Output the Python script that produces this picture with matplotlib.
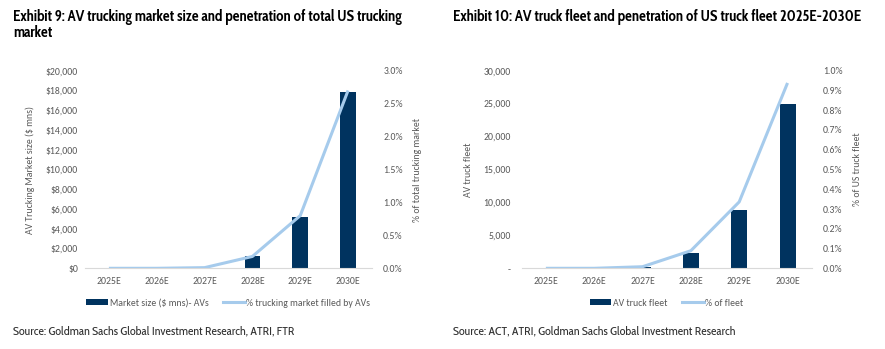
import matplotlib
matplotlib.use("Agg")
import matplotlib.pyplot as plt
from matplotlib.lines import Line2D
from matplotlib.patches import Patch
from matplotlib.ticker import FuncFormatter
import numpy as np

categories = ["2025E", "2026E", "2027E", "2028E", "2029E", "2030E"]

# Exhibit 9
market_size = [0, 0, 20, 1200, 5200, 17800]          # $ mns
market_pct = [0.0, 0.0, 0.01, 0.18, 0.80, 2.70]      # % of total trucking market

# Exhibit 10
fleet = [0, 0, 250, 2300, 8900, 24900]               # AV trucks
fleet_pct = [0.0, 0.0, 0.008, 0.089, 0.336, 0.938]   # % of US truck fleet

title1_l1 = "Exhibit 9: AV trucking market size and penetration of total US trucking"
title1_l2 = "market"
title2 = "Exhibit 10: AV truck fleet and penetration of US truck fleet 2025E-2030E"
source1 = "Source: Goldman Sachs Global Investment Research, ATRI, FTR"
source2 = "Source: ACT, ATRI, Goldman Sachs Global Investment Research"

BAR = "#00335F"
LINE = "#A6CBEC"
GREY = "#595959"
TICKFONT = ["Carlito", "DejaVu Sans"]
TITLEFONT = ["Cabin Condensed", "DejaVu Sans"]
TS = 7.0

W, H = 885, 349
fig = plt.figure(figsize=(W / 100, H / 100), dpi=100)
fig.patch.set_facecolor("white")


def px_axes(x0, x1, ytop, ybot):
    return fig.add_axes([x0 / W, 1 - ybot / H, (x1 - x0) / W, (ybot - ytop) / H])


def style(ax, ax2):
    for a in (ax, ax2):
        for s in a.spines.values():
            s.set_visible(False)
        a.tick_params(length=0, colors=GREY, labelsize=TS)
        for lab in a.get_xticklabels() + a.get_yticklabels():
            lab.set_family(TICKFONT)
    ax.spines["bottom"].set_visible(True)
    ax.spines["bottom"].set_color("#D9D9D9")
    ax.spines["bottom"].set_linewidth(0.8)


def make_chart(x0, x1, bars, pct, ymax, ystep, pmax, pstep, yfmt, pfmt,
               ylabel, plabel, lpad, rpad, leg_labels):
    ax = px_axes(x0, x1, 70.7, 268.3)
    x = np.arange(len(categories))
    ax.bar(x, bars, width=0.33, color=BAR, zorder=2)
    ax.set_xlim(-0.5, len(categories) - 0.5)
    ax.set_ylim(0, ymax)
    ax.set_yticks(np.arange(0, ymax + ystep / 2, ystep))
    ax.yaxis.set_major_formatter(FuncFormatter(yfmt))
    ax.set_xticks(x)
    ax.set_xticklabels(categories)
    ax2 = ax.twinx()
    ax2.plot(x, pct, color=LINE, linewidth=2.2, zorder=3, solid_capstyle="butt")
    ax2.set_ylim(0, pmax)
    ax2.set_yticks(np.arange(0, pmax + pstep / 2, pstep))
    ax2.yaxis.set_major_formatter(FuncFormatter(pfmt))
    ax.tick_params(axis="y", pad=lpad)
    ax.tick_params(axis="x", pad=6)
    ax2.tick_params(axis="y", pad=rpad)
    style(ax, ax2)
    ax.set_ylabel(ylabel, color=GREY, fontsize=TS, family=TICKFONT)
    ax2.set_ylabel(plabel, color=GREY, fontsize=TS, family=TICKFONT)
    handles = [Patch(facecolor=BAR, edgecolor="none"),
               Line2D([0], [0], color=LINE, linewidth=2.2)]
    leg = ax.legend(handles, leg_labels, loc="center", ncol=2, frameon=False,
                    bbox_to_anchor=(0.5, (268.3 - 303) / 197.6),
                    handlelength=2.2, handleheight=0.45, handletextpad=0.2,
                    columnspacing=1.5, prop={"family": TICKFONT, "size": TS})
    for t in leg.get_texts():
        t.set_color(GREY)
    return ax, ax2


ax, ax2 = make_chart(85, 372, market_size, market_pct, 20000, 2000, 3.0, 0.5,
                     lambda v, p: "${:,.0f}".format(v),
                     lambda v, p: "{:.1f}%".format(v),
                     "AV Trucking Market size ($ mns)", "% of total trucking market",
                     5, 8, ["Market size ($ mns)- AVs", "% trucking market filled by AVs"])
ax.yaxis.set_label_coords((35 - 85) / 287, 0.5)
ax2.yaxis.set_label_coords((413 - 85) / 287, 0.5)

bx, bx2 = make_chart(521.7, 811.7, fleet, fleet_pct, 30000, 5000, 1.0, 0.1,
                     lambda v, p: "-" if v == 0 else "{:,.0f}".format(v),
                     lambda v, p: "{:.1f}%".format(v),
                     "AV truck fleet", "% of US truck fleet",
                     7.7, 8, ["AV truck fleet", "% of fleet"])
bx.yaxis.set_label_coords((473 - 521.7) / 290, 0.5)
bx2.yaxis.set_label_coords((853 - 521.7) / 290, 0.5)

tkw = dict(fontsize=10.8, fontweight="bold", family=TITLEFONT, color="black", va="baseline")
fig.text(13 / W, 1 - 20.7 / H, title1_l1, **tkw)
fig.text(13 / W, 1 - 36.7 / H, title1_l2, **tkw)
fig.text(453 / W, 1 - 20.9 / H, title2, **tkw)

skw = dict(fontsize=8.7, family=TITLEFONT, color="#333333", va="baseline")
fig.text(13 / W, 1 - 335 / H, source1, **skw)
fig.text(453 / W, 1 - 335 / H, source2, **skw)

fig.savefig("out.png", dpi=100, facecolor="white")
